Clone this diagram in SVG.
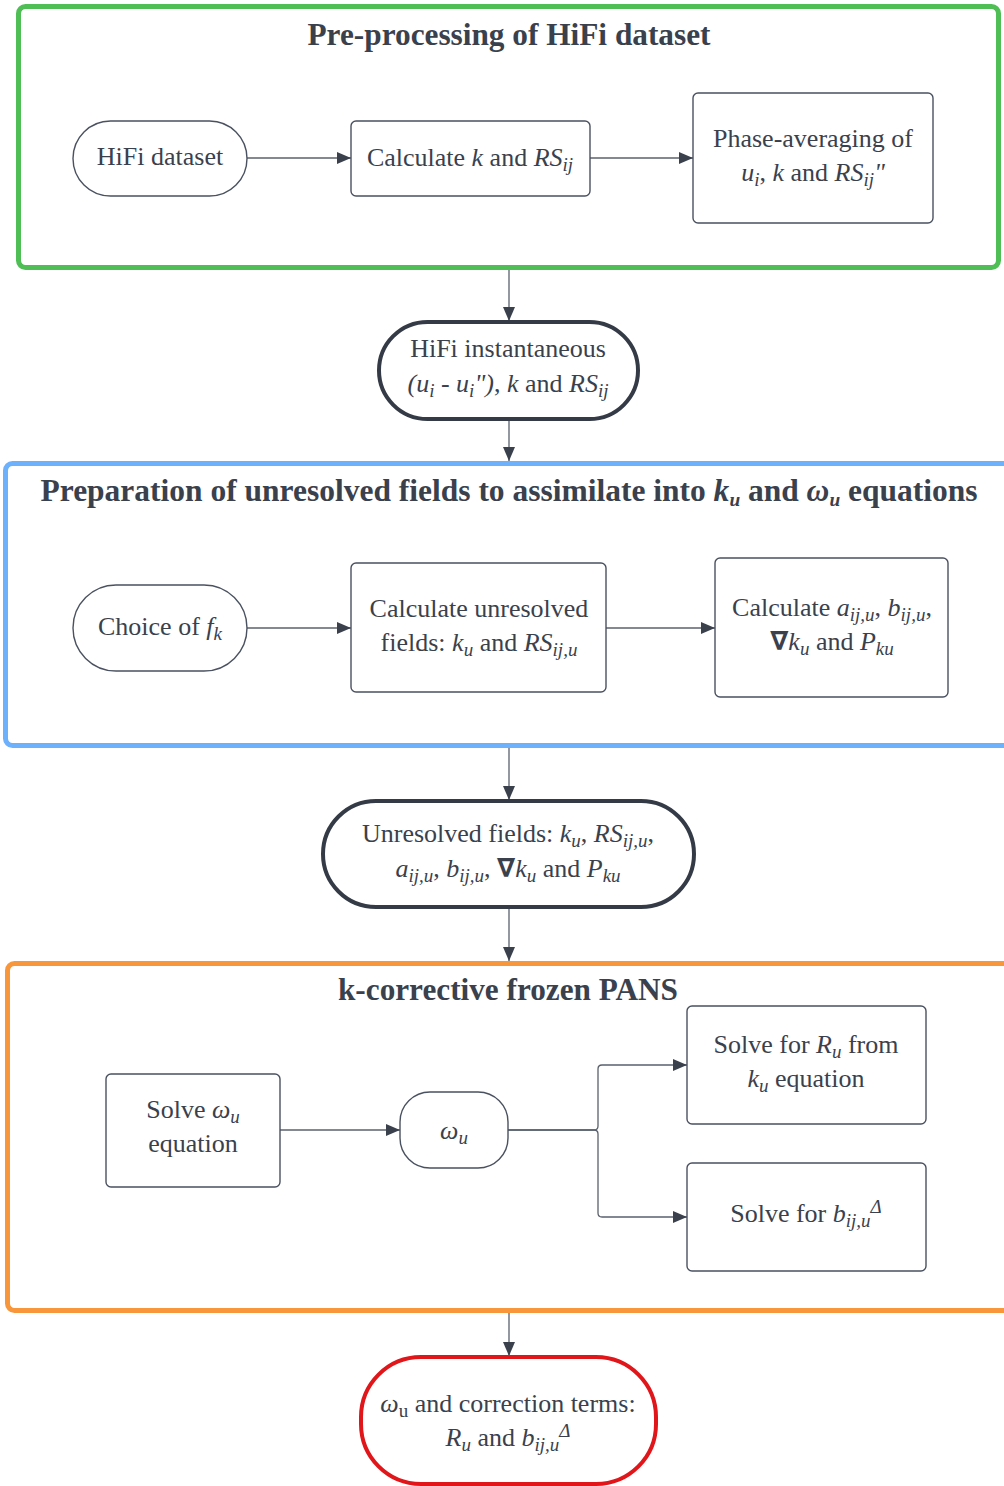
<svg xmlns="http://www.w3.org/2000/svg" width="1004" height="1486" viewBox="0 0 1004 1486">
<defs>
<marker id="ah" viewBox="0 0 14 12" refX="14" refY="6" markerWidth="14" markerHeight="12" markerUnits="userSpaceOnUse" orient="auto">
<path d="M0,0 L14,6 L0,12 Z" fill="#3a414c"/>
</marker>
<style>
.t{font-family:"Liberation Serif","Times New Roman",serif;font-size:26px;fill:#3a414c;text-anchor:middle}
.h{font-family:"Liberation Serif","Times New Roman",serif;font-size:31px;font-weight:bold;fill:#3a414c;text-anchor:middle}
.i{font-style:italic}
.s{font-size:19px;font-style:italic}
.nb{font-family:"DejaVu Sans",sans-serif;font-weight:bold;font-style:normal}
.box{fill:#fff;stroke:#4a5160;stroke-width:1.4}
.thick{fill:#fff;stroke:#343b46;stroke-width:4}
.conn{fill:none;stroke:#5a616d;stroke-width:1.3}
</style>
</defs>
<rect width="1004" height="1486" fill="#fff"/>

<g id="group-preprocessing">
<rect x="18.5" y="6.5" width="980" height="261" rx="7" fill="none" stroke="#4fbf55" stroke-width="5"/>
<text class="h" x="509" y="45" textLength="403" lengthAdjust="spacingAndGlyphs">Pre-processing of HiFi dataset</text>
</g>
<g id="group-preparation">
<rect x="5.5" y="463.5" width="1010" height="282" rx="7" fill="none" stroke="#6db0fb" stroke-width="5"/>
<text class="h" x="509" y="501" textLength="937" lengthAdjust="spacingAndGlyphs">Preparation of unresolved fields to assimilate into <tspan class="i">k<tspan class="s" baseline-shift="-25%">u</tspan></tspan> and <tspan class="i">ω<tspan class="s" baseline-shift="-25%">u</tspan></tspan> equations</text>
</g>
<g id="group-pans">
<rect x="7.5" y="963.5" width="1010" height="347" rx="7" fill="none" stroke="#f7963b" stroke-width="5"/>
<text class="h" x="508" y="1000" textLength="340" lengthAdjust="spacingAndGlyphs">k-corrective frozen PANS</text>
</g>

<g id="connectors">
<line class="conn" x1="247" y1="158" x2="351" y2="158" marker-end="url(#ah)"/>
<line class="conn" x1="590" y1="158" x2="693" y2="158" marker-end="url(#ah)"/>
<line class="conn" x1="509" y1="270" x2="509" y2="321" marker-end="url(#ah)"/>
<line class="conn" x1="509" y1="420" x2="509" y2="461" marker-end="url(#ah)"/>
<line class="conn" x1="247" y1="628" x2="351" y2="628" marker-end="url(#ah)"/>
<line class="conn" x1="606" y1="628" x2="715" y2="628" marker-end="url(#ah)"/>
<line class="conn" x1="509" y1="748" x2="509" y2="800" marker-end="url(#ah)"/>
<line class="conn" x1="509" y1="908" x2="509" y2="961" marker-end="url(#ah)"/>
<line class="conn" x1="280" y1="1130" x2="400" y2="1130" marker-end="url(#ah)"/>
<path class="conn" d="M508,1130 H594 Q598,1130 598,1126 V1069 Q598,1065 602,1065 H687" marker-end="url(#ah)"/>
<path class="conn" d="M508,1130 H594 Q598,1130 598,1134 V1213 Q598,1217 602,1217 H687" marker-end="url(#ah)"/>
<line class="conn" x1="509" y1="1313" x2="509" y2="1356" marker-end="url(#ah)"/>
</g>

<g id="node-hifi-dataset">
<rect class="box" x="73" y="121" width="174" height="75" rx="37.5"/>
<text class="t" x="160" y="165">HiFi dataset</text>
</g>
<g id="node-calc-k">
<rect class="box" x="351" y="121" width="239" height="75" rx="5"/>
<text class="t" x="470" y="166">Calculate <tspan class="i">k</tspan> and <tspan class="i">RS<tspan class="s" baseline-shift="-25%">ij</tspan></tspan></text>
</g>
<g id="node-phase-avg">
<rect class="box" x="693" y="93" width="240" height="130" rx="5"/>
<text class="t" x="813" y="147">Phase-averaging of</text>
<text class="t" x="813" y="181"><tspan class="i">u<tspan class="s" baseline-shift="-25%">i</tspan></tspan>, <tspan class="i">k</tspan> and <tspan class="i">RS<tspan class="s" baseline-shift="-25%">ij</tspan>"</tspan></text>
</g>
<g id="node-hifi-inst">
<rect class="thick" x="379" y="322" width="259" height="97" rx="48.5"/>
<text class="t" x="508" y="357">HiFi instantaneous</text>
<text class="t" x="508" y="392"><tspan class="i">(u<tspan class="s" baseline-shift="-25%">i</tspan> - u<tspan class="s" baseline-shift="-25%">i</tspan>")</tspan>, <tspan class="i">k</tspan> and <tspan class="i">RS<tspan class="s" baseline-shift="-25%">ij</tspan></tspan></text>
</g>
<g id="node-choice-fk">
<rect class="box" x="73" y="585" width="174" height="86" rx="43"/>
<text class="t" x="160" y="635">Choice of <tspan class="i">f<tspan class="s" baseline-shift="-25%">k</tspan></tspan></text>
</g>
<g id="node-calc-unresolved">
<rect class="box" x="351" y="563" width="255" height="129" rx="5"/>
<text class="t" x="479" y="617">Calculate unresolved</text>
<text class="t" x="479" y="651">fields: <tspan class="i">k<tspan class="s" baseline-shift="-25%">u</tspan></tspan> and <tspan class="i">RS<tspan class="s" baseline-shift="-25%">ij,u</tspan></tspan></text>
</g>
<g id="node-calc-aij">
<rect class="box" x="715" y="558" width="233" height="139" rx="5"/>
<text class="t" x="832" y="616">Calculate <tspan class="i">a<tspan class="s" baseline-shift="-25%">ij,u</tspan></tspan>, <tspan class="i">b<tspan class="s" baseline-shift="-25%">ij,u</tspan></tspan>,</text>
<text class="t" x="832" y="650"><tspan class="nb">∇</tspan><tspan class="i">k<tspan class="s" baseline-shift="-25%">u</tspan></tspan> and <tspan class="i">P<tspan class="s" baseline-shift="-25%">ku</tspan></tspan></text>
</g>
<g id="node-unresolved-fields">
<rect class="thick" x="323" y="801" width="371" height="106" rx="53"/>
<text class="t" x="508" y="842">Unresolved fields: <tspan class="i">k<tspan class="s" baseline-shift="-25%">u</tspan></tspan>, <tspan class="i">RS<tspan class="s" baseline-shift="-25%">ij,u</tspan></tspan>,</text>
<text class="t" x="508" y="877"><tspan class="i">a<tspan class="s" baseline-shift="-25%">ij,u</tspan></tspan>, <tspan class="i">b<tspan class="s" baseline-shift="-25%">ij,u</tspan></tspan>, <tspan class="nb">∇</tspan><tspan class="i">k<tspan class="s" baseline-shift="-25%">u</tspan></tspan> and <tspan class="i">P<tspan class="s" baseline-shift="-25%">ku</tspan></tspan></text>
</g>
<g id="node-solve-omega">
<rect class="box" x="106" y="1074" width="174" height="113" rx="5"/>
<text class="t" x="193" y="1118">Solve <tspan class="i">ω<tspan class="s" baseline-shift="-25%">u</tspan></tspan></text>
<text class="t" x="193" y="1152">equation</text>
</g>
<g id="node-omega">
<rect class="box" x="400" y="1092" width="108" height="76" rx="30"/>
<text class="t" x="454" y="1139"><tspan class="i">ω<tspan class="s" baseline-shift="-25%">u</tspan></tspan></text>
</g>
<g id="node-solve-ru">
<rect class="box" x="687" y="1006" width="239" height="118" rx="5"/>
<text class="t" x="806" y="1053">Solve for <tspan class="i">R<tspan class="s" baseline-shift="-25%">u</tspan></tspan> from</text>
<text class="t" x="806" y="1087"><tspan class="i">k<tspan class="s" baseline-shift="-25%">u</tspan></tspan> equation</text>
</g>
<g id="node-solve-bij">
<rect class="box" x="687" y="1163" width="239" height="108" rx="5"/>
<text class="t" x="806" y="1222">Solve for <tspan class="i">b<tspan class="s" baseline-shift="-25%">ij,u</tspan><tspan class="s" baseline-shift="50%">Δ</tspan></tspan></text>
</g>
<g id="node-final">
<rect x="361" y="1357" width="295" height="127" rx="60" fill="#fff" stroke="#e0161b" stroke-width="4"/>
<text class="t" x="508" y="1412"><tspan class="i">ω</tspan><tspan font-size="19px" baseline-shift="-25%">u</tspan> and correction terms:</text>
<text class="t" x="508" y="1446"><tspan class="i">R<tspan class="s" baseline-shift="-25%">u</tspan></tspan> and <tspan class="i">b<tspan class="s" baseline-shift="-25%">ij,u</tspan><tspan class="s" baseline-shift="50%">Δ</tspan></tspan></text>
</g>
</svg>
